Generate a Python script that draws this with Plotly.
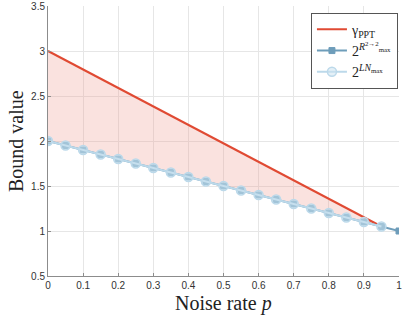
import plotly.graph_objects as go

p_all = [0, 0.05, 0.1, 0.15, 0.2, 0.25, 0.3, 0.35, 0.4, 0.45, 0.5,
         0.55, 0.6, 0.65, 0.7, 0.75, 0.8, 0.85, 0.9, 0.95, 1.0]
r_vals = [2.0, 1.95, 1.9, 1.85, 1.8, 1.75, 1.7, 1.65, 1.6, 1.55, 1.5,
          1.45, 1.4, 1.35, 1.3, 1.25, 1.2, 1.15, 1.1, 1.05, 1.0]
p_ln = p_all[:20]
ln_vals = r_vals[:20]
p_ppt = [0, 0.95]
ppt_vals = [3.0, 1.05]
x_ticks = [0, 0.1, 0.2, 0.3, 0.4, 0.5, 0.6, 0.7, 0.8, 0.9, 1]
x_ticklabels = ["0", "0.1", "0.2", "0.3", "0.4", "0.5", "0.6", "0.7", "0.8", "0.9", "1"]
y_ticks = [0.5, 1, 1.5, 2, 2.5, 3, 3.5]
y_ticklabels = ["0.5", "1", "1.5", "2", "2.5", "3", "3.5"]

red = "#E04A33"
dark = "#6E9DBA"
light = "#BCD9EA"

W, H = 407, 319
ML, MR, MT, MB = 48, 8, 6, 43

fig = go.Figure()
fig.add_trace(go.Scatter(x=p_ln, y=ln_vals, mode="lines", line=dict(width=0),
                         showlegend=False, hoverinfo="skip"))
fig.add_trace(go.Scatter(x=p_ppt, y=ppt_vals, mode="lines", line=dict(width=0),
                         fill="tonexty", fillcolor="rgba(240,160,150,0.30)",
                         showlegend=False, hoverinfo="skip"))
fig.add_trace(go.Scatter(x=p_ppt, y=ppt_vals, mode="lines",
                         line=dict(color=red, width=2),
                         name="γ<sub>PPT</sub>"))
fig.add_trace(go.Scatter(x=p_all, y=r_vals, mode="lines+markers",
                         line=dict(color=dark, width=2),
                         marker=dict(symbol="square", size=6, color=dark,
                                     line=dict(color=dark, width=1)),
                         name="2<sup><i>R</i><sup>2→2</sup><sub>max</sub></sup>"))
fig.add_trace(go.Scatter(x=p_ln, y=ln_vals, mode="lines+markers",
                         line=dict(color=light, width=2),
                         marker=dict(symbol="circle", size=9, color="rgba(205,227,240,0.55)",
                                     line=dict(color=light, width=1.5)),
                         name="2<sup><i>LN</i><sub>max</sub></sup>"))

axis_common = dict(showgrid=True, gridcolor="#E6E6E6", gridwidth=1,
                   showline=True, linecolor="#8C8C8C", linewidth=1,
                   ticks="inside", ticklen=3, tickcolor="#8C8C8C",
                   tickfont=dict(family="Liberation Sans", size=10, color="#333333"),
                   zeroline=False, mirror=False, automargin=False)
fig.update_xaxes(range=[0, 1], tickvals=x_ticks, ticktext=x_ticklabels, **axis_common)
fig.update_yaxes(range=[0.5, 3.5], tickvals=y_ticks, ticktext=y_ticklabels, **axis_common)

fig.add_annotation(text="Noise rate <i>p</i>", xref="paper", yref="paper",
                   x=0.5, y=-(303 - (H - MB)) / (H - MT - MB), xanchor="center", yanchor="middle",
                   showarrow=False, font=dict(family="Liberation Serif", size=20, color="#222"))
fig.add_annotation(text="Bound value", xref="paper", yref="paper",
                   x=-(ML - 16) / (W - ML - MR), y=0.5, xanchor="center", yanchor="middle",
                   textangle=-90, showarrow=False,
                   font=dict(family="Liberation Serif", size=20, color="#222"))

fig.update_layout(width=W, height=H,
                  margin=dict(l=ML, r=MR, t=MT, b=MB, autoexpand=False),
                  plot_bgcolor="white", paper_bgcolor="white",
                  legend=dict(x=0.997, y=0.975, xanchor="right", yanchor="top",
                              traceorder="normal",
                              bgcolor="white", bordercolor="#555555", borderwidth=1,
                              font=dict(family="Liberation Serif", size=14, color="#222"),
                              tracegroupgap=0, itemwidth=30))
fig.write_html("out.html", config={"displayModeBar": False},
               post_script="document.body.style.margin='0';document.body.style.padding='0';")
